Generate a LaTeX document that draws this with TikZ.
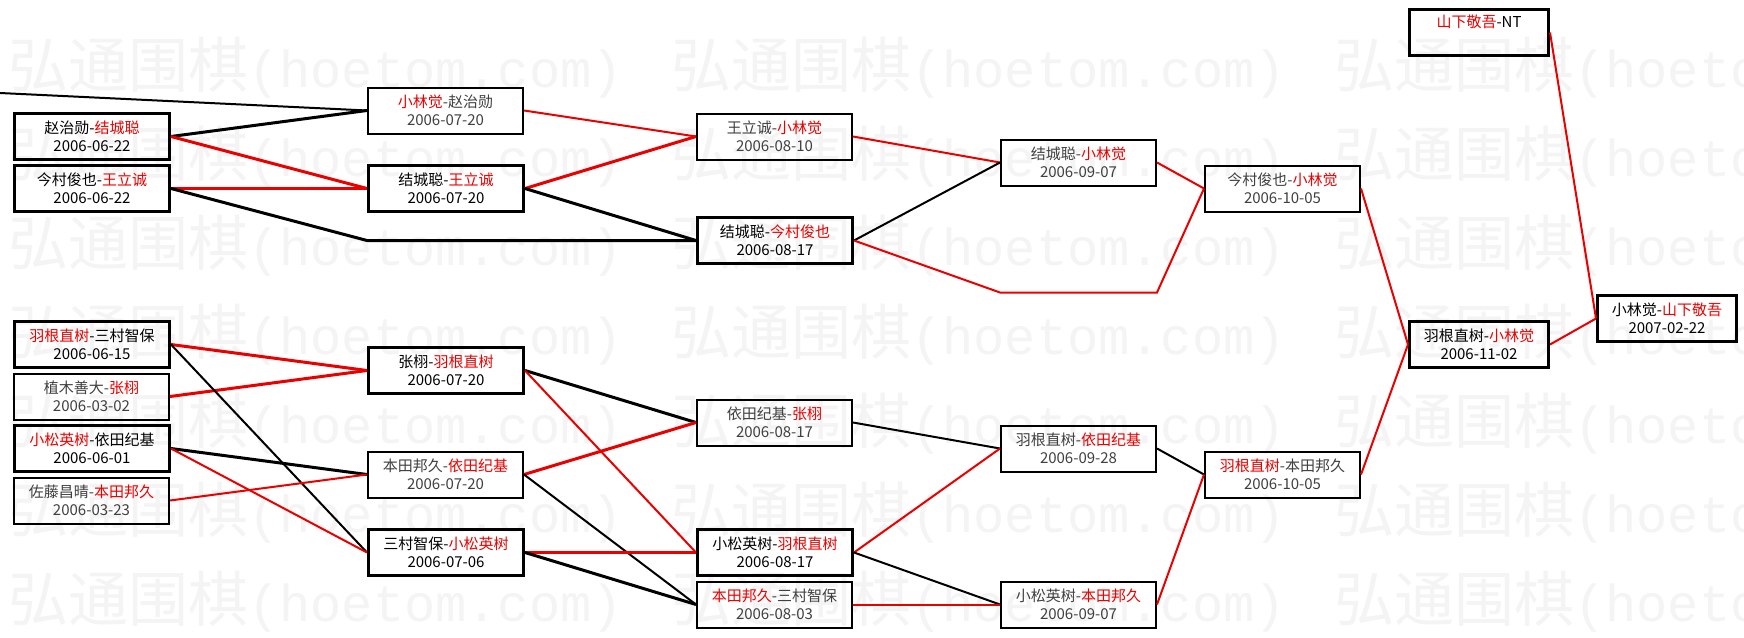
\documentclass[tikz,border=0pt]{standalone}
\usepackage{fontspec}
\usepackage{tikz}
\newfontfamily\cjk{Noto Sans CJK SC}
\newfontfamily\markFont{Liberation Mono}
\tikzstyle{bracket} = [x = 1pt, y = -1pt]
\definecolor{winColor}{RGB}{235,0,0}
\definecolor{markColor}{RGB}{244,244,244}
\tikzstyle{gameStyle} = [draw, line width = 2pt, minimum width = 155pt, minimum height = 46pt, inner sep = 0pt, anchor = west, align = center, font = \cjk\fontsize{15pt}{18pt}\selectfont, text = black!75]
\tikzstyle{playedStyle} = [gameStyle, line width = 3pt, text = black]
\tikzstyle{narrowStyle} = [minimum width = 139pt]
\tikzstyle{winLine} = [color = winColor, line width = 2pt]
\tikzstyle{loseLine} = [color = black, line width = 2pt]
\tikzstyle{heavy} = [line width = 3pt]
\tikzstyle{markStyle} = [anchor = west, inner sep = 0pt, text = markColor]
\newcommand{\winner}[1]{\textcolor{winColor}{#1}}
\newcommand{\slotY}[1]{32.5 + 52 * #1}
\newcommand{\game}[6]{\node [#1] (#2) at (#3, {\slotY{#4}}) {#5\\#6};}
\newcommand{\markText}{{\cjk\fontsize{60pt}{60pt}\selectfont 弘通围棋}{\markFont\fontsize{52pt}{60pt}\selectfont (hoetom.com)}}

\begin{document}
\begin{tikzpicture}[bracket]
\fill [white] (0,0) rectangle (1744,637);
\useasboundingbox (0,0) rectangle (1744,637);
\clip (0,0) rectangle (1744,637);
% watermark rows
\foreach \row in {0,...,6} {
  \foreach \col in {0,1,2} {
    \pgfmathsetmacro{\markX}{8 + 663 * \col}
    \pgfmathsetmacro{\markY}{68 + 89 * \row}
    \node [markStyle] (mark\row\col) at (\markX, \markY) {\markText};
  }
}
% first round
\game{playedStyle}{firstA}{13}{2}{赵治勋-\winner{结城聪}}{2006-06-22}
\game{playedStyle}{firstB}{13}{3}{今村俊也-\winner{王立诚}}{2006-06-22}
\game{playedStyle}{firstC}{13}{6}{\winner{羽根直树}-三村智保}{2006-06-15}
\game{gameStyle}{firstD}{13}{7}{植木善大-\winner{张栩}}{2006-03-02}
\game{playedStyle}{firstE}{13}{8}{\winner{小松英树}-依田纪基}{2006-06-01}
\game{gameStyle}{firstF}{13}{9}{佐藤昌晴-\winner{本田邦久}}{2006-03-23}
% second round
\game{gameStyle}{secondA}{367}{1.5}{\winner{小林觉}-赵治勋}{2006-07-20}
\game{playedStyle}{secondB}{367}{3}{结城聪-\winner{王立诚}}{2006-07-20}
\game{playedStyle}{secondC}{367}{6.5}{张栩-\winner{羽根直树}}{2006-07-20}
\game{gameStyle}{secondD}{367}{8.5}{本田邦久-\winner{依田纪基}}{2006-07-20}
\game{playedStyle}{secondE}{367}{10}{三村智保-\winner{小松英树}}{2006-07-06}
% third round
\game{gameStyle}{thirdA}{696}{2}{王立诚-\winner{小林觉}}{2006-08-10}
\game{playedStyle}{thirdB}{696}{4}{结城聪-\winner{今村俊也}}{2006-08-17}
\game{gameStyle}{thirdC}{696}{7.5}{依田纪基-\winner{张栩}}{2006-08-17}
\game{playedStyle}{thirdD}{696}{10}{小松英树-\winner{羽根直树}}{2006-08-17}
\game{gameStyle}{thirdE}{696}{11}{\winner{本田邦久}-三村智保}{2006-08-03}
% fourth round
\game{gameStyle}{fourthA}{1000}{2.5}{结城聪-\winner{小林觉}}{2006-09-07}
\game{gameStyle}{fourthB}{1000}{8}{羽根直树-\winner{依田纪基}}{2006-09-28}
\game{gameStyle}{fourthC}{1000}{11}{小松英树-\winner{本田邦久}}{2006-09-07}
% fifth round
\game{gameStyle}{fifthA}{1204}{3}{今村俊也-\winner{小林觉}}{2006-10-05}
\game{gameStyle}{fifthB}{1204}{8.5}{\winner{羽根直树}-本田邦久}{2006-10-05}
% challenger final and title match
\game{playedStyle, narrowStyle}{holder}{1408}{0}{\winner{山下敬吾}-NT}{\strut}
\game{playedStyle, narrowStyle}{challenger}{1408}{6}{羽根直树-\winner{小林觉}}{2006-11-02}
\game{playedStyle, narrowStyle}{titleMatch}{1596}{5.5}{小林觉-\winner{山下敬吾}}{2007-02-22}
% free ends and byes
\coordinate (offLeft) at (0, 93);
\coordinate (byeUpper) at (secondB.west |- thirdB.west);
\coordinate (byeLowerIn) at (1000, {\slotY{5}});
\coordinate (byeLowerOut) at (fourthA.east |- byeLowerIn);
% first round lines
\draw [loseLine] (offLeft) -- (secondA.west);
\draw [loseLine, heavy] (firstA.east) -- (secondA.west);
\draw [winLine, heavy] (firstA.east) -- (secondB.west);
\draw [winLine, heavy] (firstB.east) -- (secondB.west);
\draw [loseLine, heavy] (firstB.east) -- (byeUpper) -- (thirdB.west);
\draw [winLine, heavy] (firstC.east) -- (secondC.west);
\draw [winLine, heavy] (firstD.east) -- (secondC.west);
\draw [loseLine] (firstC.east) -- (secondE.west);
\draw [loseLine, heavy] (firstE.east) -- (secondD.west);
\draw [winLine] (firstE.east) -- (secondE.west);
\draw [winLine] (firstF.east) -- (secondD.west);
% second round lines
\draw [winLine] (secondA.east) -- (thirdA.west);
\draw [winLine, heavy] (secondB.east) -- (thirdA.west);
\draw [loseLine, heavy] (secondB.east) -- (thirdB.west);
\draw [loseLine, heavy] (secondC.east) -- (thirdC.west);
\draw [winLine] (secondC.east) -- (thirdD.west);
\draw [winLine, heavy] (secondD.east) -- (thirdC.west);
\draw [loseLine] (secondD.east) -- (thirdE.west);
\draw [winLine, heavy] (secondE.east) -- (thirdD.west);
\draw [loseLine, heavy] (secondE.east) -- (thirdE.west);
% third round lines
\draw [winLine] (thirdA.east) -- (fourthA.west);
\draw [loseLine] (thirdB.east) -- (fourthA.west);
\draw [winLine] (thirdB.east) -- (byeLowerIn) -- (byeLowerOut) -- (fifthA.west);
\draw [loseLine] (thirdC.east) -- (fourthB.west);
\draw [winLine] (thirdD.east) -- (fourthB.west);
\draw [loseLine] (thirdD.east) -- (fourthC.west);
\draw [winLine] (thirdE.east) -- (fourthC.west);
% later rounds
\draw [winLine] (fourthA.east) -- (fifthA.west);
\draw [loseLine] (fourthB.east) -- (fifthB.west);
\draw [winLine] (fourthC.east) -- (fifthB.west);
\draw [winLine] (fifthA.east) -- (challenger.west);
\draw [winLine] (fifthB.east) -- (challenger.west);
\draw [winLine] (challenger.east) -- (titleMatch.west);
\draw [winLine] (holder.east) -- (titleMatch.west);
\end{tikzpicture}
\end{document}
